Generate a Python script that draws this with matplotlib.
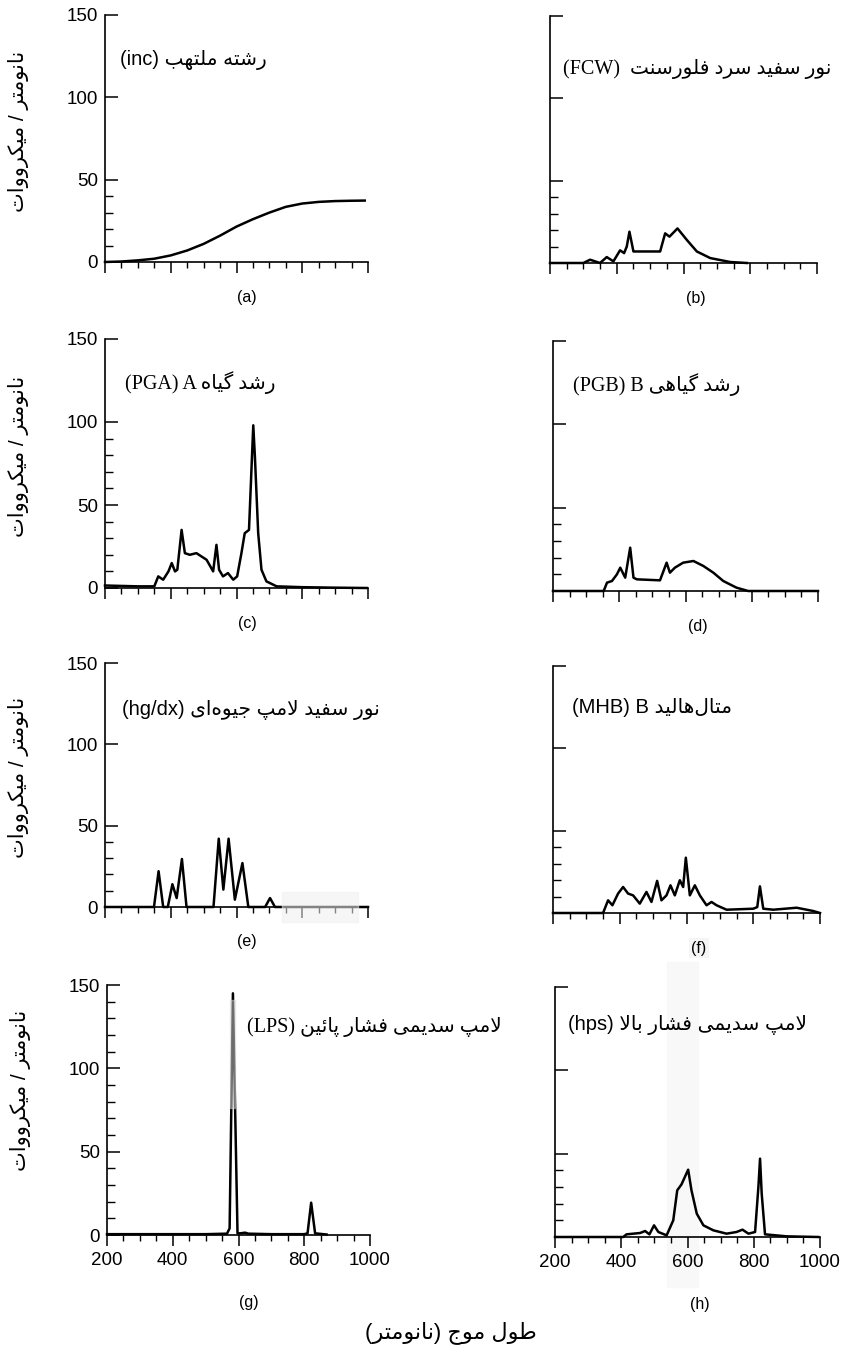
import matplotlib
matplotlib.use("Agg")
import matplotlib.pyplot as plt
from matplotlib import font_manager
from matplotlib.ft2font import FT2Font
from matplotlib.ticker import FixedLocator, MultipleLocator

### DONNEES ###

inc_nm = [200, 250, 300, 350, 400, 450, 500, 550, 600, 650, 700, 750, 800, 850, 900, 950, 990]
inc_val = [0, 0.3, 1, 2, 4, 7, 11, 16, 21.5, 26, 30, 33.5, 35.5, 36.5, 37, 37.2, 37.3]

fcw_nm = [200, 300, 320, 350, 370, 390, 410, 422, 430, 438, 450, 530, 545, 558, 582, 610, 640, 680, 740, 790]
fcw_val = [0, 0, 2, 0, 3.6, 1, 7.7, 6, 10, 19, 7, 7, 18, 16, 21, 14, 7, 3, 0.6, 0]

pga_nm = [200, 300, 350, 362, 377, 393, 403, 413, 420, 433, 443, 458, 478, 509, 529, 539, 547, 559,
          574, 590, 602, 615, 625, 638, 651, 656, 666, 676, 691, 722, 800, 900, 996]
pga_val = [1.5, 1, 1, 7, 5, 10, 15, 10, 11, 35, 21, 20, 21, 17, 10, 26, 11, 7,
           9, 5, 7, 21, 33, 35, 98, 79, 33, 11, 4, 1, 0.5, 0.2, 0]

pgb_nm = [200, 353, 363, 378, 393, 403, 418, 433, 443, 453, 523, 543, 553, 568, 593, 624, 654, 684,
          714, 754, 789, 1000]
pgb_val = [0, 0, 5, 6, 10, 14, 8, 26, 8, 7, 6.4, 17, 11, 14, 17, 18, 15, 11,
           6, 2, 0, 0]

hg_nm = [200, 349, 363, 377, 391, 405, 418, 434, 448, 530, 546, 560, 576, 595, 618, 636, 687, 702, 717, 1000]
hg_val = [0, 0, 22, 0, 0, 14, 5.5, 29.5, 0, 0, 42, 10.7, 42, 4.5, 27, 0, 0, 5.5, 0, 0]

mhb_nm = [200, 350, 365, 378, 395, 410, 425, 440, 460, 480, 495, 512, 525, 540, 552, 565, 580, 590, 598,
          610, 625, 640, 660, 675, 690, 720, 800, 812, 820, 830, 860, 930, 980, 1000]
mhb_val = [0, 0, 7.7, 4.7, 11.8, 15.8, 11.8, 10.7, 5.7, 12.8, 6.7, 19.5, 7.7, 10.7, 16.8, 10.7, 19.9, 15.8, 33.6,
           10.7, 16.8, 10.7, 4.7, 6.7, 4.7, 2, 2.6, 3.6, 16.2, 2.6, 2, 3.2, 1.2, 0]

lps_nm = [200, 500, 565, 573, 583, 597, 605, 620, 630, 700, 800, 810, 821, 833, 868]
lps_val = [0.5, 0.5, 0.8, 4, 145, 1, 1, 1.4, 0.8, 0.5, 0.5, 1, 19.4, 1, 0.3]

hps_nm = [200, 406, 416, 457, 472, 485, 499, 512, 537, 557, 569, 582, 602, 612, 628, 648, 678, 718,
          748, 766, 784, 804, 814, 819, 824, 834, 899, 995]
hps_val = [0, 0, 1.6, 2.4, 3.6, 1.6, 7, 3, 1, 10, 28, 31.6, 40.4, 28, 14, 7, 4, 2,
           3, 4.4, 2, 3, 30, 47, 26, 1.6, 0.4, 0]

series = [(inc_nm, inc_val), (fcw_nm, fcw_val), (pga_nm, pga_val), (pgb_nm, pgb_val),
          (hg_nm, hg_val), (mhb_nm, mhb_val), (lps_nm, lps_val), (hps_nm, hps_val)]

letters = ["(a)", "(b)", "(c)", "(d)", "(e)", "(f)", "(g)", "(h)"]
latin = ["(inc)", "(FCW) ", "(PGA) A", "(PGB) B", "(hg/dx)", "(MHB) B", "(LPS)", "(hps)"]
persian = ["رشته ملتهب", "نور سفید سرد فلورسنت", "رشد گیاه", "رشد گیاهی",
           "نور سفید لامپ جیوه\u200cای", "متال\u200cهالید", "لامپ سدیمی فشار پائین", "لامپ سدیمی فشار بالا"]
serif_title = [False, True, True, True, False, False, True, False]

y_label = "نانومتر / میکرووات"
x_label = "طول موج (نانومتر)"

y_major = [0, 50, 100, 150]
x_major = [200, 400, 600, 800, 1000]

### FACONNAGE DU PERSAN (matplotlib ne le fait pas) ###

FORMS = {
    'ا': (0xFE8D, 0xFE8E), 'د': (0xFEA9, 0xFEAA), 'ر': (0xFEAD, 0xFEAE), 'و': (0xFEED, 0xFEEE),
    'ب': (0xFE8F, 0xFE90, 0xFE91, 0xFE92), 'ت': (0xFE95, 0xFE96, 0xFE97, 0xFE98),
    'ج': (0xFE9D, 0xFE9E, 0xFE9F, 0xFEA0), 'س': (0xFEB1, 0xFEB2, 0xFEB3, 0xFEB4),
    'ش': (0xFEB5, 0xFEB6, 0xFEB7, 0xFEB8), 'ط': (0xFEC1, 0xFEC2, 0xFEC3, 0xFEC4),
    'ف': (0xFED1, 0xFED2, 0xFED3, 0xFED4), 'ل': (0xFEDD, 0xFEDE, 0xFEDF, 0xFEE0),
    'م': (0xFEE1, 0xFEE2, 0xFEE3, 0xFEE4), 'ن': (0xFEE5, 0xFEE6, 0xFEE7, 0xFEE8),
    'ه': (0xFEE9, 0xFEEA, 0xFEEB, 0xFEEC), 'ئ': (0xFE89, 0xFE8A, 0xFE8B, 0xFE8C),
    'پ': (0xFB56, 0xFB57, 0xFB58, 0xFB59), 'ک': (0xFB8E, 0xFB8F, 0xFB90, 0xFB91),
    'گ': (0xFB92, 0xFB93, 0xFB94, 0xFB95), 'ی': (0xFBFC, 0xFBFD, 0xFBFE, 0xFBFF),
}

_ft = FT2Font(font_manager.findfont("DejaVu Sans"))


def _glyph(code, base):
    return chr(code) if _ft.get_char_index(code) else base


def fa(s):
    out = []
    i = 0
    while i < len(s):
        c = s[i]
        if c not in FORMS:
            if c != '\u200c':
                out.append(c)
            i += 1
            continue
        prev = s[i - 1] if i > 0 else ''
        jp = prev in FORMS and len(FORMS[prev]) == 4
        if c == 'ل' and i + 1 < len(s) and s[i + 1] == 'ا':
            out.append(_glyph(0xFEFC if jp else 0xFEFB, 'لا'))
            i += 2
            continue
        nxt = s[i + 1] if i + 1 < len(s) else ''
        f = FORMS[c]
        jn = len(f) == 4 and nxt in FORMS
        if jp and jn:
            code = f[3]
        elif jp:
            code = f[1]
        elif jn:
            code = f[2]
        else:
            code = f[0]
        out.append(_glyph(code, c))
        i += 1
    mirror = {'(': ')', ')': '('}
    return ''.join(mirror.get(g, g) for g in out[::-1])


### FIGURE ###

W, H = 843, 1353
fig = plt.figure(figsize=(W / 100, H / 100), dpi=100)

# boites des axes en pixels : gauche, haut, droite, bas
boxes = [(105, 15, 368, 262), (550, 16, 817, 263),
         (105, 339, 368, 588), (553, 341, 818, 591),
         (105, 663, 368, 907), (553, 666, 820, 913),
         (107, 985, 370, 1235), (555, 987, 820, 1237)]
title_pos = [(0.057, 0.818), (0.049, 0.787), (0.076, 0.827), (0.075, 0.824),
             (0.065, 0.807), (0.071, 0.83), (0.532, 0.832), (0.049, 0.847)]
minor_top = [40, 40, 90, 40, 40, 40, 140, 40]

sans = ['Liberation Sans', 'DejaVu Sans']
axes = []
for k, (l, t, r, b) in enumerate(boxes):
    ax = fig.add_axes([l / W, 1 - b / H, (r - l) / W, (b - t) / H])
    axes.append(ax)
    x, y = series[k]
    ax.plot(x, y, color='black', lw=1.8, clip_on=False, zorder=4, solid_joinstyle='round')
    ax.set_xlim(200, 1000)
    ax.set_ylim(0, 150)
    for s in ['top', 'right']:
        ax.spines[s].set_visible(False)
    for s in ['left', 'bottom']:
        ax.spines[s].set_linewidth(1.2)
    ax.xaxis.set_major_locator(FixedLocator(x_major))
    ax.xaxis.set_minor_locator(MultipleLocator(50))
    ax.yaxis.set_major_locator(FixedLocator(y_major))
    ax.yaxis.set_minor_locator(FixedLocator(list(range(10, minor_top[k] + 1, 10))))
    ax.tick_params(axis='x', which='major', direction='out', length=8, width=1.1, pad=4,
                   labelsize=13.5, labelbottom=k >= 6)
    ax.tick_params(axis='x', which='minor', direction='out', length=4.5, width=1.0)
    ax.tick_params(axis='y', which='major', direction='in', length=9.5, width=1.1, pad=5,
                   labelsize=13.5, labelleft=k % 2 == 0)
    ax.tick_params(axis='y', which='minor', direction='in', length=6, width=1.0)
    for lab in ax.get_xticklabels() + ax.get_yticklabels():
        lab.set_family(sans)

    fam = ['Liberation Serif', 'DejaVu Sans'] if serif_title[k] else sans
    ax.text(title_pos[k][0], title_pos[k][1], latin[k] + " " + fa(persian[k]),
            transform=ax.transAxes, ha='left', va='center', fontsize=14.5, family=fam)

    lx = 0.547 if k % 2 else 0.54
    ly = -0.268 if k >= 6 else -0.142
    box = dict(facecolor='#f5f5f5', edgecolor='none', pad=2) if k == 5 else None
    ax.text(lx, ly, letters[k], transform=ax.transAxes, ha='center', va='center',
            fontsize=11.5, family=sans, bbox=box)

    if k % 2 == 0:
        ax.text(-0.33, 0.58 if k == 6 else 0.53, fa(y_label), transform=ax.transAxes,
                rotation=90, ha='center', va='center', fontsize=15, family=sans)

# traces du scan
axes[4].axvspan(738, 969, ymin=-0.06, ymax=0.06, color='#f0f0f0', alpha=0.55, zorder=5, clip_on=False)
axes[6].axvspan(574, 590, ymin=0.51, ymax=0.94, color='#d8d8d8', alpha=0.5, zorder=5)
axes[7].axvspan(538, 632, ymin=-0.2, ymax=1.1, color='#f8f8f8', zorder=0, clip_on=False)

fig.text(451 / W, 1 - 1333 / H, fa(x_label), ha='center', va='center', fontsize=16, family=sans)

fig.savefig("out.png", dpi=100)
